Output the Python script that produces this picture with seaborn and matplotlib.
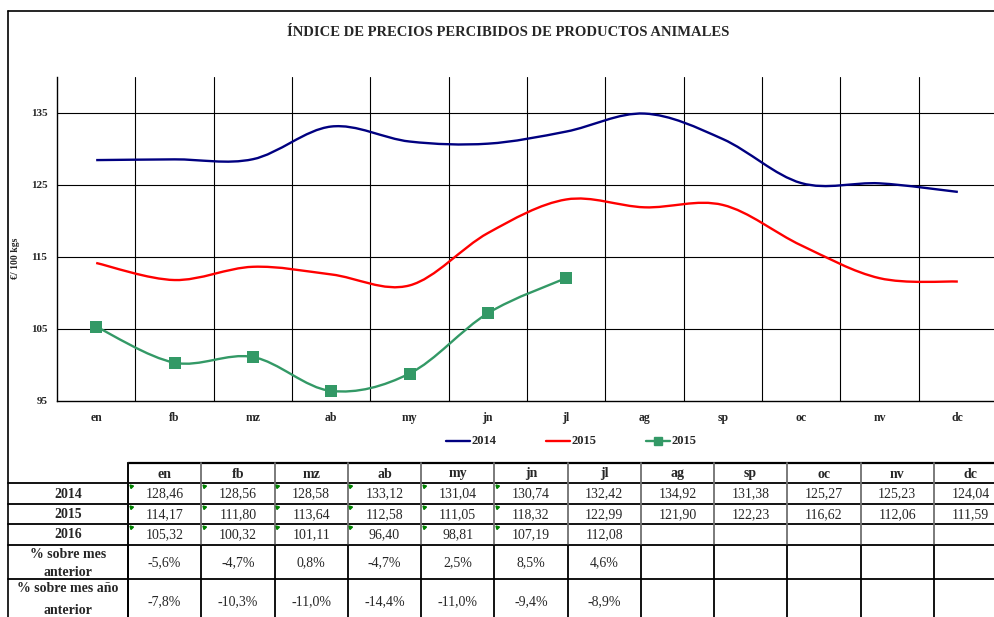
import numpy as np
import matplotlib
matplotlib.use("Agg")
import matplotlib.pyplot as plt
from matplotlib.path import Path
from matplotlib.patches import PathPatch
import seaborn as sns

months = ["en", "fb", "mz", "ab", "my", "jn", "jl", "ag", "sp", "oc", "nv", "dc"]
v2014 = [128.46, 128.56, 128.58, 133.12, 131.04, 130.74, 132.42, 134.92, 131.38, 125.27, 125.23, 124.04]
v2015 = [114.17, 111.80, 113.64, 112.58, 111.05, 118.32, 122.99, 121.90, 122.23, 116.62, 112.06, 111.59]
v2016 = [105.32, 100.32, 101.11, 96.40, 98.81, 107.19, 112.08]
pct_prev_month = [-5.6, -4.7, 0.8, -4.7, 2.5, 8.5, 4.6]
pct_prev_year = [-7.8, -10.3, -11.0, -14.4, -11.0, -9.4, -8.9]
yticks = [95, 105, 115, 125, 135]

c2014 = "#000080"
c2015 = "#FF0000"
c2016 = "#339966"
serif = ["Liberation Serif", "DejaVu Serif"]

sns.set_style("white")
plt.rcParams["font.family"] = serif


def smooth_path(xs, ys):
    # excel-like smoothed line: bezier segments with catmull-rom control points
    pts = np.column_stack([xs, ys]).astype(float)
    n = len(pts)
    verts = [pts[0]]
    codes = [Path.MOVETO]
    for i in range(n - 1):
        p0 = pts[max(i - 1, 0)]
        p1 = pts[i]
        p2 = pts[i + 1]
        p3 = pts[min(i + 2, n - 1)]
        verts += [p1 + (p2 - p0) / 6, p2 - (p3 - p1) / 6, p2]
        codes += [Path.CURVE4] * 3
    return Path(verts, codes)


fig = plt.figure(figsize=(9.94, 6.17), dpi=100)
ax = fig.add_axes([57 / 994, 1 - 401 / 617, 940 / 994, 324 / 617])

x = np.arange(len(months))
for vals, col in [(v2014, c2014), (v2015, c2015), (v2016, c2016)]:
    ax.add_patch(PathPatch(smooth_path(x[:len(vals)], vals), facecolor="none",
                           edgecolor=col, lw=1.7, zorder=3))
sns.scatterplot(x=x[:len(v2016)], y=v2016, marker="s", s=65, color=c2016,
                edgecolor=c2016, linewidth=0, ax=ax, zorder=4)

ax.set_xlim(-0.5, 11.5)
ax.set_ylim(95, 140)
ax.set_yticks(yticks)
ax.set_yticklabels([str(t) for t in yticks], fontsize=8, fontweight="bold")
ax.set_xticks(np.arange(-0.5, 12, 1))
ax.set_xticklabels([])
for i, m in enumerate(months):
    ax.text(i, 92.6, m, ha="center", va="center", fontsize=8.5, fontweight="bold")
for t in yticks[1:]:
    ax.axhline(t, color="black", lw=0.8, zorder=1)
for b in np.arange(0.5, 12, 1):
    ax.axvline(b, color="black", lw=0.8, zorder=1)
ax.tick_params(axis="both", direction="out", length=4, width=0.8, color="black", pad=3)
for s in ["top", "right"]:
    ax.spines[s].set_visible(False)
for s in ["left", "bottom"]:
    ax.spines[s].set_color("black")
    ax.spines[s].set_linewidth(1.0)
ax.set_ylabel("€/ 100 kgs", fontsize=7, fontweight="bold")
ax.yaxis.set_label_coords(-37 / 940, 0.44)

# overlay in pixel coordinates for frame, title, legend and table
ov = fig.add_axes([0, 0, 1, 1], zorder=5)
ov.set_xlim(0, 994)
ov.set_ylim(617, 0)
ov.axis("off")

ov.plot([8, 994], [11, 11], color="black", lw=1.2)
ov.plot([8, 8], [11, 617], color="black", lw=1.2)
ov.text(508, 32, "ÍNDICE DE PRECIOS PERCIBIDOS DE PRODUCTOS ANIMALES",
        ha="center", va="center", fontsize=10.5, fontweight="bold")

for x0, col, lab, mk in [(446, c2014, "2014", None), (546, c2015, "2015", None),
                         (646, c2016, "2015", "s")]:
    ov.plot([x0, x0 + 24], [441, 441], color=col, lw=1.7)
    if mk:
        ov.plot([x0 + 12], [441], marker="s", ms=6, color=col)
    ov.text(x0 + 26, 441, lab, ha="left", va="center", fontsize=9, fontweight="bold")

# table
col_x = [128 + 73.25 * k for k in range(13)]
row_y = [463, 483, 504, 524, 545, 579, 640]
grey = "#707070"
ov.plot([128, 994], [row_y[0], row_y[0]], color="black", lw=1.6)
for ry in row_y[1:6]:
    ov.plot([8, 994], [ry, ry], color="black", lw=1.3)
for cx in col_x:
    ov.plot([cx, cx], [row_y[0], row_y[4]], color=grey, lw=1.3)
    ov.plot([cx, cx], [row_y[4], 617], color="black", lw=1.3)
ov.plot([128, 128], [row_y[0], 617], color="black", lw=1.3)

fs = 10
for k, m in enumerate(months):
    cx = (col_x[k] + col_x[k + 1]) / 2
    ov.text(cx, 474, m, ha="center", va="center", fontsize=fs, fontweight="bold")

labels = ["2014", "2015", "2016"]
for r, (lab, vals) in enumerate(zip(labels, [v2014, v2015, v2016])):
    cy = (row_y[r + 1] + row_y[r + 2]) / 2 + 0.5
    ov.text(68, cy, lab, ha="center", va="center", fontsize=fs, fontweight="bold")
    for k, v in enumerate(vals):
        cx = (col_x[k] + col_x[k + 1]) / 2
        ov.text(cx, cy, f"{v:.2f}".replace(".", ","), ha="center", va="center", fontsize=fs)
        if k < 6:
            ov.plot([col_x[k] + 2.5], [row_y[r + 1] + 2.5], marker=(3, 0, 45),
                    ms=3, color="#008000", lw=0)

ov.text(68, 555, "% sobre mes", ha="center", va="center", fontsize=fs, fontweight="bold")
ov.text(68, 573, "anterior", ha="center", va="center", fontsize=fs, fontweight="bold")
ov.text(68, 588, "% sobre mes año", ha="center", va="center", fontsize=fs, fontweight="bold")
ov.text(68, 611, "anterior", ha="center", va="center", fontsize=fs, fontweight="bold")
for k, v in enumerate(pct_prev_month):
    cx = (col_x[k] + col_x[k + 1]) / 2
    ov.text(cx, 563, f"{v:.1f}%".replace(".", ","), ha="center", va="center", fontsize=fs)
for k, v in enumerate(pct_prev_year):
    cx = (col_x[k] + col_x[k + 1]) / 2
    ov.text(cx, 602, f"{v:.1f}%".replace(".", ","), ha="center", va="center", fontsize=fs)

fig.savefig("out.png", dpi=100)
